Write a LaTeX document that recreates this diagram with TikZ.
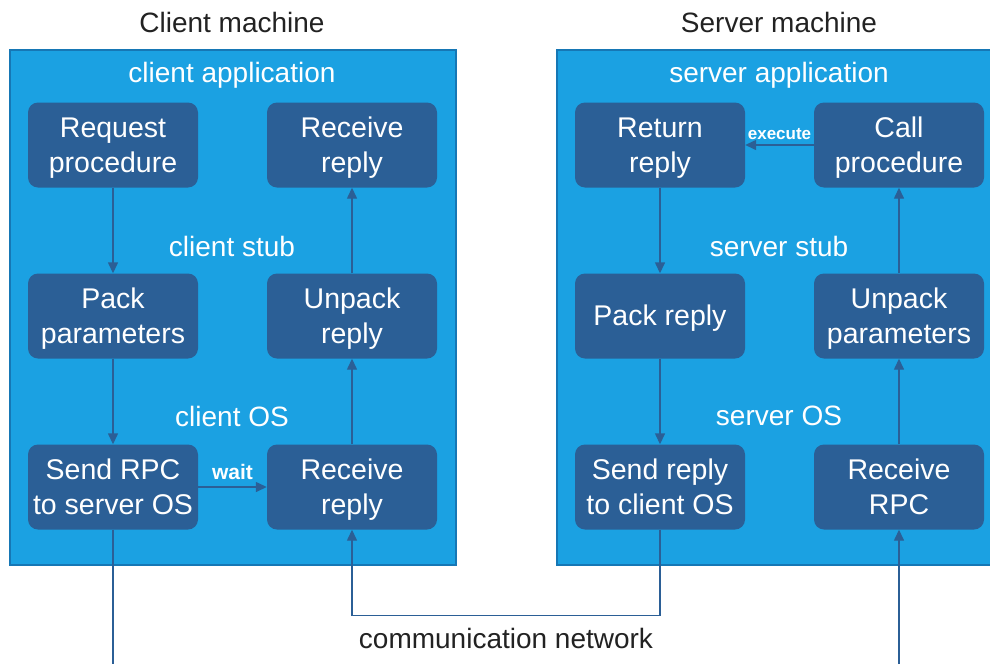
\documentclass[tikz,border=0pt]{standalone}
\usepackage{fontspec}
\setmainfont{Liberation Sans}
\usetikzlibrary{arrows.meta}
\definecolor{panelblue}{HTML}{1BA1E2}
\definecolor{paneledge}{HTML}{1677B5}
\definecolor{boxblue}{HTML}{2B5F96}
\definecolor{titlegray}{HTML}{222222}
\tikzset{
  panel/.style={fill=panelblue, draw=paneledge, line width=1.2pt},
  stepbox/.style={fill=boxblue, draw=none, rounded corners=10pt, minimum width=170pt, minimum height=85pt, inner sep=0pt},
  boxtext/.style={text=white, align=center, font=\fontsize{28.5}{35}\selectfont, inner sep=0pt},
  layer/.style={text=white, font=\fontsize{28}{32}\selectfont},
  title/.style={text=titlegray, font=\fontsize{28}{32}\selectfont},
  arr/.style={draw=boxblue, line width=1.4pt, -{Triangle[length=11pt,width=10pt]}},
  plain/.style={draw=boxblue, line width=1.4pt},
  small/.style={text=white, font=\bfseries\fontsize{21}{23}\selectfont, inner sep=1pt},
  tiny/.style={text=white, font=\bfseries\fontsize{17}{19}\selectfont, inner sep=1pt}
}
\newcommand{\stepnode}[3]{%
  \node[stepbox] (#1) at (#2) {};
  \node[boxtext] (#1t) at ([yshift=-2.5pt]#1.center) {#3};}
\begin{document}
\begin{tikzpicture}[x=1pt,y=-1pt]
\useasboundingbox (0,0) rectangle (990,664);
% panels
\path[panel] (10,50) rectangle (456,565);
\path[panel] (557,50) rectangle (992,565);
% titles
\node[title] (tc) at (232,22) {Client machine};
\node[title] (ts) at (779,22) {Server machine};
\node[layer] (ca) at (232,75) {client application};
\node[layer] (cs) at (232,246) {client stub};
\node[layer] (co) at (232,416) {client OS};
\node[layer] (sa) at (779,75) {server application};
\node[layer] (ss) at (779,246) {server stub};
\node[layer] (so) at (779,416) {server OS};
% client boxes
\stepnode{req}{113,145}{\strut Request\\\strut procedure}
\stepnode{rcv1}{352,145}{\strut Receive\\\strut reply}
\stepnode{pack}{113,316}{\strut Pack\\\strut parameters}
\stepnode{unpack}{352,316}{\strut Unpack\\\strut reply}
\stepnode{send}{113,487}{\strut Send RPC\\\strut to server OS}
\stepnode{rcv2}{352,487}{\strut Receive\\\strut reply}
% server boxes
\stepnode{ret}{660,145}{\strut Return\\\strut reply}
\stepnode{call}{899,145}{\strut Call\\\strut procedure}
\stepnode{packr}{660,316}{\strut Pack reply}
\stepnode{unpackp}{899,316}{\strut Unpack\\\strut parameters}
\stepnode{sendr}{660,487}{\strut Send reply\\\strut to client OS}
\stepnode{rcvrpc}{899,487}{\strut Receive\\\strut RPC}
% client arrows
\draw[arr] (req) -- (pack);
\draw[arr] (pack) -- (send);
\draw[arr] (send) -- node[small, above, yshift=6pt] (wait) {wait} (rcv2);
\draw[arr] (rcv2) -- (unpack);
\draw[arr] (unpack) -- (rcv1);
% server arrows
\draw[arr] (call) -- node[tiny, above, yshift=4pt] (exec) {execute} (ret);
\draw[arr] (ret) -- (packr);
\draw[arr] (packr) -- (sendr);
\draw[arr] (rcvrpc) -- (unpackp);
\draw[arr] (unpackp) -- (call);
% network
\coordinate (bl) at (113,664);
\coordinate (br) at (899,664);
\draw[arr] (sendr.south) -- ++(0,86) -| (rcv2.south);
\draw[plain] (send.south) -- (bl);
\draw[arr] (br) -- (rcvrpc.south);
\node[title] (net) at (506,638) {communication network};
\end{tikzpicture}
\end{document}
